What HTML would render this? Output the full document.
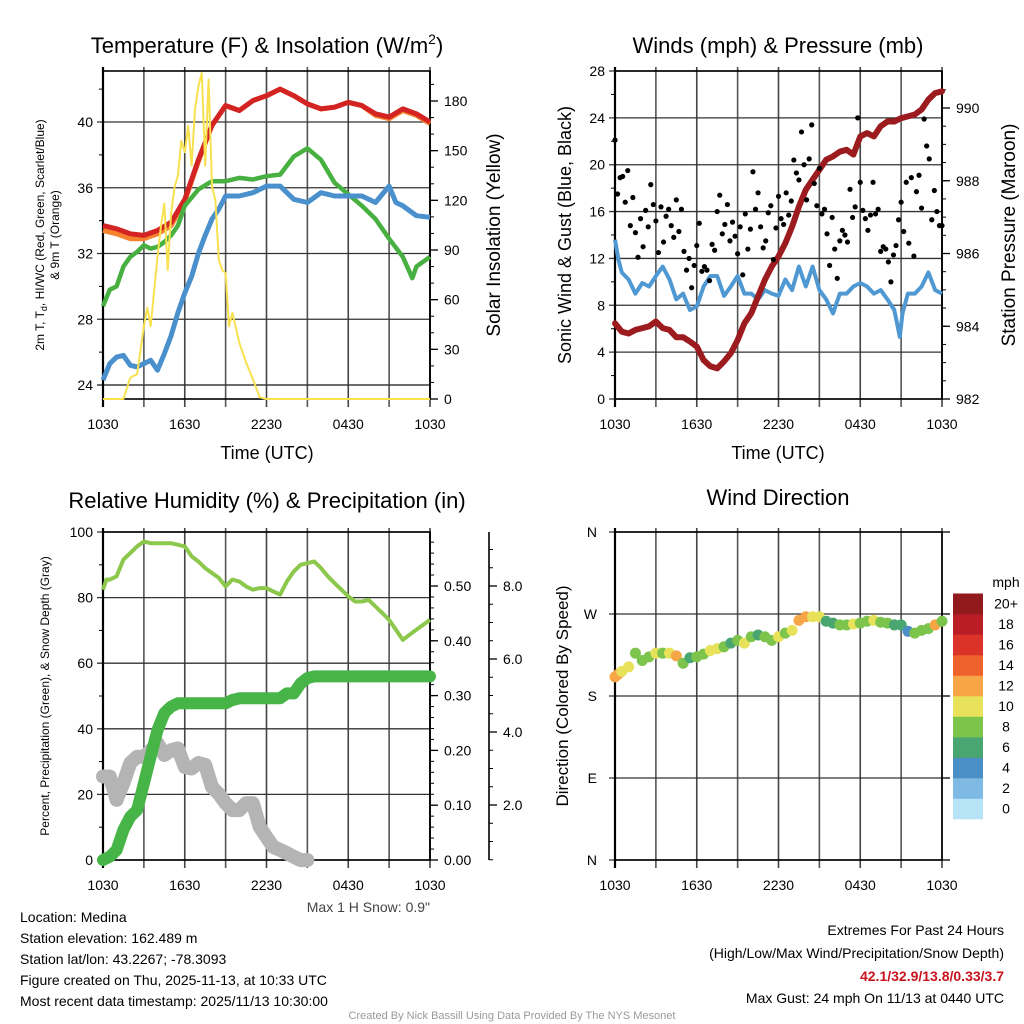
<!DOCTYPE html>
<html><head><meta charset="utf-8"><style>
html,body{margin:0;padding:0;background:#fff;}
svg{display:block;font-family:"Liberation Sans",Arial,sans-serif;}
</style></head><body>
<svg id="fig" width="1024" height="1024" viewBox="0 0 1024 1024" xmlns="http://www.w3.org/2000/svg">
<rect x="0" y="0" width="1024" height="1024" fill="#fff"/>
<text x="267" y="53" font-size="22" text-anchor="middle">Temperature (F) &amp; Insolation (W/m<tspan dy="-9" font-size="14">2</tspan><tspan dy="9">)</tspan></text>
<text x="778" y="53" font-size="22" text-anchor="middle">Winds (mph) &amp; Pressure (mb)</text>
<text x="267" y="508" font-size="22" text-anchor="middle">Relative Humidity (%) &amp; Precipitation (in)</text>
<text x="778" y="505" font-size="22" text-anchor="middle">Wind Direction</text>
<text transform="translate(44,235) rotate(-90)" font-size="12" text-anchor="middle">2m T, T<tspan font-size="9" dy="3">d</tspan><tspan dy="-3">, HI/WC (Red, Green, Scarlet/Blue)</tspan></text>
<text transform="translate(59,235) rotate(-90)" font-size="12" text-anchor="middle">&amp; 9m T (Orange)</text>
<text transform="translate(500,235) rotate(-90)" font-size="19" text-anchor="middle">Solar Insolation (Yellow)</text>
<text x="267" y="459" font-size="18" text-anchor="middle">Time (UTC)</text>
<text transform="translate(571,235) rotate(-90)" font-size="18" text-anchor="middle">Sonic Wind &amp; Gust (Blue, Black)</text>
<text transform="translate(1015,235) rotate(-90)" font-size="19" text-anchor="middle">Station Pressure (Maroon)</text>
<text x="778" y="459" font-size="18" text-anchor="middle">Time (UTC)</text>
<text transform="translate(49,696) rotate(-90)" font-size="12" text-anchor="middle">Percent, Precipitation (Green), &amp; Snow Depth (Gray)</text>
<text transform="translate(568,696) rotate(-90)" font-size="17" text-anchor="middle">Direction (Colored By Speed)</text>
<text x="430" y="912" font-size="14" text-anchor="end" fill="#444">Max 1 H Snow: 0.9"</text>
<g font-size="14">
<text x="20" y="922">Location: Medina</text>
<text x="20" y="943">Station elevation: 162.489 m</text>
<text x="20" y="964">Station lat/lon: 43.2267; -78.3093</text>
<text x="20" y="985">Figure created on Thu, 2025-11-13, at 10:33 UTC</text>
<text x="20" y="1006">Most recent data timestamp: 2025/11/13 10:30:00</text>
</g>
<g font-size="14" text-anchor="end">
<text x="1004" y="935">Extremes For Past 24 Hours</text>
<text x="1004" y="958">(High/Low/Max Wind/Precipitation/Snow Depth)</text>
<text x="1004" y="981" fill="#c8141e" font-weight="bold">42.1/32.9/13.8/0.33/3.7</text>
<text x="1004" y="1003">Max Gust: 24 mph On 11/13 at 0440 UTC</text>
</g>
<text x="512" y="1019" font-size="11" text-anchor="middle" fill="#999">Created By Nick Bassill Using Data Provided By The NYS Mesonet</text>
<g id="layer"></g>
</svg>
<script>
const timeTickLabels = ["1030","1630","2230","0430","1030"];
const tempHours = [0,1,2,3,4,5,6,7,8,9,10,11,12,13,14,15,16,17,18,19,20,21,22,23,24];
const temp2m = [33.7,33.5,33.2,33.1,33.4,33.9,35.3,37.7,39.8,41.0,40.7,41.3,41.6,42.0,41.6,41.1,40.8,40.9,41.2,41.0,40.5,40.3,40.8,40.5,40.0];
const temp9m = [33.4,33.2,32.9,32.9,33.2,33.7,35.2,37.6,39.8,41.0,40.7,41.3,41.6,42.0,41.6,41.1,40.8,40.9,41.2,41.0,40.4,40.2,40.7,40.4,39.9];
const dewHours = [0,0.5,1,1.5,2,2.5,3,3.5,4,4.5,5,5.5,6,7,8,9,10,11,12,13,14,15,16,17,18,19,20,21,22,22.7,23,24];
const dewpoint = [28.8,29.8,30.0,31.2,31.8,32.1,32.5,32.3,32.4,32.7,33.1,33.7,34.9,35.9,36.4,36.4,36.6,36.5,36.7,36.8,37.9,38.4,37.7,36.3,35.6,34.9,34.1,32.9,31.8,30.5,31.2,31.8];
const wcHours = [0,0.5,1,1.5,2,2.5,3,3.5,4,4.5,5,5.5,6,6.5,7,7.5,8,8.5,9,10,11,12,13,14,15,16,17,18,19,20,21,21.5,22,23,24];
const windChill = [24.3,25.3,25.7,25.8,25.2,25.1,25.3,25.5,24.9,25.9,27.0,28.4,29.6,30.6,32.0,33.1,34.1,34.7,35.5,35.5,35.7,36.1,36.1,35.3,35.1,35.7,35.5,35.5,35.5,35.1,36.1,35.1,34.9,34.3,34.2];
const solarHours = [0,1,1.5,2,2.5,3,3.25,3.5,4,4.25,4.5,4.75,5,5.25,5.5,5.75,6,6.25,6.5,6.75,7,7.25,7.5,7.75,8,8.25,8.5,8.75,9,9.25,9.5,10,10.5,11,11.5,12,15,18,21,24];
const solar = [0,0,0,13,15,44,55,44,86,104,118,78,112,128,135,156,149,165,141,175,189,197,141,193,128,120,84,78,76,44,52,34,22,12,1,0,0,0,0,0];
const tempTicks = [24,28,32,36,40];
const solarTicks = [0,30,60,90,120,150,180];
const windHours = [0,0.25,0.5,1,1.5,2,2.5,3,3.5,4,4.5,5,5.5,6,6.5,7,7.5,8,8.5,9,9.5,10,10.5,11,11.5,12,12.5,13,13.5,14,14.5,15,15.5,16,16.5,17,17.5,18,18.5,19,19.5,20,20.5,20.9,21.1,21.5,22,22.5,23,23.5,24];
const windSpeed = [13.6,11.9,10.8,10.2,9.0,9.9,9.6,10.5,11.3,10.2,8.5,9.0,7.6,7.9,9.6,10.5,10.5,8.8,9.6,10.5,9.0,9.0,8.5,9.3,9.0,8.8,10.2,9.3,11.3,9.6,11.3,9.3,8.5,7.3,9.0,9.0,9.6,9.9,9.6,9.0,9.3,8.5,7.6,5.3,7.3,9.0,9.0,9.6,10.8,9.3,9.0];
const pressHours = [0,0.5,1,1.5,2,2.5,3,3.5,4,4.5,5,5.5,6,6.5,7,7.5,8,8.5,9,9.5,10,10.5,11,11.5,12,12.5,13,13.5,14,14.5,15,15.5,16,16.5,17,17.5,18,18.5,19,19.5,20,20.5,21,21.5,22,22.5,23,23.5,24];
const pressure = [984.08,983.85,983.8,983.9,983.95,984.0,984.13,983.95,983.9,983.7,983.7,983.58,983.44,983.07,982.9,982.84,983.03,983.26,983.62,984.08,984.36,984.82,985.28,985.64,985.92,986.28,986.74,987.29,987.75,988.03,988.3,988.58,988.67,988.8,988.85,988.72,989.22,989.31,989.22,989.5,989.63,989.63,989.72,989.77,989.82,989.96,990.23,990.41,990.46];
const gusts = [22.1,17.5,18.9,19.0,16.8,19.5,14.8,17.2,14.2,12.1,15.4,13.0,16.1,14.7,18.3,16.6,15.2,12.5,16.4,13.4,15.6,16.2,14.8,13.8,17.0,14.3,16.2,12.6,11.0,12.0,9.5,11.4,13.1,15.0,10.9,11.3,11.0,10.1,13.2,12.7,16.0,17.4,14.1,14.9,16.6,13.5,15.1,13.9,12.4,14.7,10.6,15.8,12.8,14.5,19.4,16.2,17.6,14.7,12.9,13.5,15.9,16.5,11.9,14.6,17.3,15.4,14.9,17.6,15.7,16.9,20.4,19.3,18.7,22.8,20.0,17.0,20.5,23.4,18.4,16.5,19.7,15.8,16.2,14.1,11.4,15.5,12.8,10.3,13.5,14.4,14.0,13.4,17.9,15.5,16.4,24.0,18.5,16.1,15.4,14.4,15.7,18.5,15.8,16.2,12.6,13.0,12.8,11.7,10.0,12.3,13.1,15.3,16.8,14.3,18.5,13.3,18.9,12.2,17.7,19.1,16.3,23.9,21.6,20.5,15.3,17.8,16.0,14.8,14.8];
const windTicks = [0,4,8,12,16,20,24,28];
const pressTicks = [982,984,986,988,990];
const rhHours = [0,0.25,0.5,1,1.5,2,2.5,3,3.5,4,4.5,5,5.5,6,6.5,7,7.5,8,8.5,9,9.5,10,10.5,11,11.5,12,12.5,13,13.5,14,14.5,15,15.5,16,16.5,17,17.5,18,18.5,19,19.5,20,20.5,21,21.5,22,22.5,23,23.5,24];
const rh = [82.4,85.5,85.5,86.5,91.6,93.6,95.6,97.1,96.6,96.6,96.6,96.6,96.1,95.6,92.6,91.0,89.0,87.5,86.0,83.4,85.5,84.9,83.4,82.4,82.9,82.9,81.9,80.9,84.9,88.0,90.0,90.5,91.0,89.0,86.5,84.4,82.4,80.4,78.8,78.8,79.3,77.3,75.3,73.2,70.2,67.1,68.7,70.2,71.7,73.2];
const precipHours = [0,0.5,1,1.5,2,2.5,3,3.5,4,4.5,5,5.5,6,9,9.5,10,13,13.5,14,14.5,15,15.5,24];
const precip = [0,0.006,0.018,0.055,0.079,0.091,0.14,0.189,0.237,0.268,0.28,0.286,0.286,0.286,0.292,0.295,0.295,0.304,0.304,0.322,0.332,0.335,0.335];
const snowHours = [0,0.5,1,1.5,2,2.5,3,3.5,4,4.5,5,5.5,6,6.5,7,7.5,8,8.5,9,9.5,10,10.5,11,11.5,12,12.5,13,13.5,14,14.5,15];
const snowDepth = [2.78,2.78,2.14,2.6,3.15,3.32,3.32,3.5,3.69,3.37,3.5,3.55,3.04,3.0,3.15,3.1,2.49,2.3,2.05,1.86,1.86,2.05,2.05,1.4,1.12,0.85,0.77,0.68,0.58,0.49,0.49];
const rhTicks = [0,20,40,60,80,100];
const precipTicks = ["0.00","0.10","0.20","0.30","0.40","0.50"];
const snowTicks = ["2.0","4.0","6.0","8.0"];
const dirHours = [0,0.25,0.5,1,1.5,2,2.5,3,3.5,4,4.5,5,5.5,6,6.5,7,7.5,8,8.5,9,9.5,10,10.5,11,11.5,12,12.5,13,13.5,14,14.5,15,15.5,16,16.5,17,17.5,18,18.5,19,19.5,20,20.5,21,21.5,22,22.5,23,23.5,24];
const direction = [201,204,207,212,227,219,223,227,227,227,224,216,222,223,226,230,232,234,238,241,238,245,247,245,241,245,249,252,263,267,267,267,262,260,258,258,259,260,262,263,261,260,258,258,251,249,252,254,258,262];
const dirSpeed = [13,12,11,10,9,8,9,10,9,10,13,8,7,8,9,10,10,9,6,8,10,8,7,8,9,10,9,10,12,13,10,10,7,7,8,9,10,9,8,10,9,8,7,6,5,8,9,8,12,9];
const dirTickLabels = ["N","E","S","W","N"];
const speedBins = ["0","2","4","6","8","10","12","14","16","18","20+"];
const speedColors = ["#b7e4f7","#7ebae3","#4a90c6","#4aa670","#7cc44c","#e7e25a","#f7a647","#f0622d","#dc3328","#bb1d27","#921a1c"];

const NS = "http://www.w3.org/2000/svg";
const layer = document.getElementById("layer");
function mk(tag, attrs, parent){ const e=document.createElementNS(NS,tag); for(const k in attrs) e.setAttribute(k,attrs[k]); (parent||layer).appendChild(e); return e; }
function linScale(d0,d1,r0,r1){ return v => r0 + (v-d0)/(d1-d0)*(r1-r0); }
function pathFrom(xs,ys,sx,sy){ return xs.map((h,i)=>(i?"L":"M")+sx(h).toFixed(1)+","+sy(ys[i]).toFixed(1)).join(""); }

function frame(x0,x1,y0,y1,name,hGrid){
  const g = mk("g",{});
  
  
  for(let i=0;i<=8;i++){
    const x = x0+(x1-x0)*i/8;
    mk("line",{x1:x,x2:x,y1:y0-4,y2:y1+8,stroke:i%2?"#555":"#444","stroke-width":1.6},g);
  }
  hGrid.forEach(y=>mk("line",{x1:x0-6,x2:x1,y1:y,y2:y,stroke:"#333","stroke-width":1.3},g));
  mk("rect",{x:x0,y:y0,width:x1-x0,height:y1-y0,fill:"none",stroke:"#000","stroke-width":1.6},g);
  mk("line",{x1:x0,x2:x0,y1:y0-4,y2:y1+8,stroke:"#000","stroke-width":2.2},g);
  timeTickLabels.forEach((t,i)=>{
    const tx = mk("text",{x:x0+(x1-x0)*i/4,y:y1+30,"font-size":14,"text-anchor":"middle"},g);
    tx.textContent = t;
  });
  return g;
}
function rightTicks(x,y0,y1,majors,minors,labels,sy,name,labX){
  const g = mk("g",{});
  
  
  mk("line",{x1:x,x2:x,y1:y0,y2:y1,stroke:"#000","stroke-width":1.6},g);
  minors.forEach(v=>mk("line",{x1:x,x2:x+4,y1:sy(v),y2:sy(v),stroke:"#000","stroke-width":1},g));
  majors.forEach((v,i)=>{
    mk("line",{x1:x,x2:x+8,y1:sy(v),y2:sy(v),stroke:"#000","stroke-width":1.3},g);
    const t=mk("text",{x:labX,y:sy(v)+5,"font-size":14,"text-anchor":"start"},g); t.textContent=labels[i];
  });
}
function leftLabels(x0,vals,labels,sy,name,minors){
  const g = mk("g",{});
  
  
  (minors||[]).forEach(v=>mk("line",{x1:x0-4,x2:x0,y1:sy(v),y2:sy(v),stroke:"#000","stroke-width":1},g));
  vals.forEach((v,i)=>{ const t=mk("text",{x:x0-10,y:sy(v)+5,"font-size":14,"text-anchor":"end"},g); t.textContent=labels[i]; });
}

{
  const x0=103,x1=430,y0=71,y1=399;
  const sx = linScale(0,24,x0,x1);
  const sy = linScale(24,40,385,122);
  const sr = linScale(0,180,399,101);
  frame(x0,x1,y0,y1,"temperature",tempTicks.map(sy).concat([385]));
  const mn=[]; for(let v=26;v<=42;v+=4) mn.push(v);
  leftLabels(x0,tempTicks,tempTicks.map(String),sy,"temperature-y-ticks",mn);
  const rm=[]; for(let v=10;v<=190;v+=10) rm.push(v);
  rightTicks(x1,y0,y1,solarTicks,rm,solarTicks.map(String),sr,"solar-y-axis",x1+14);
  const p5 = mk("path",{d:pathFrom(tempHours,temp9m,sx,sy),fill:"none",stroke:"#f5822e","stroke-width":5,"stroke-linejoin":"round"});
  
  
  const p1 = mk("path",{d:pathFrom(tempHours,temp2m,sx,sy),fill:"none",stroke:"#d42323","stroke-width":5,"stroke-linejoin":"round"});
  
  
  const p2 = mk("path",{d:pathFrom(dewHours,dewpoint,sx,sy),fill:"none",stroke:"#47b041","stroke-width":4.5,"stroke-linejoin":"round"});
  
  
  const p3 = mk("path",{d:pathFrom(wcHours,windChill,sx,sy),fill:"none",stroke:"#4a90cc","stroke-width":5,"stroke-linejoin":"round"});
  
  
  const p4 = mk("path",{d:pathFrom(solarHours,solar,sx,sr),fill:"none",stroke:"#f8e14f","stroke-width":2,"stroke-linejoin":"round"});
  
  
}
{
  const x0=615,x1=942,y0=71,y1=399;
  const sx = linScale(0,24,x0,x1);
  const sy = linScale(0,28,399,71);
  const sp = linScale(982,990,399,108);
  frame(x0,x1,y0,y1,"winds",windTicks.map(sy));
  const mn=[]; for(let v=2;v<=26;v+=4) mn.push(v);
  leftLabels(x0,windTicks,windTicks.map(String),sy,"wind-y-ticks",mn);
  const rm=[]; for(let v=982.5;v<=990.5;v+=0.5) rm.push(v);
  rightTicks(x1,y0,y1,pressTicks,rm,pressTicks.map(String),sp,"pressure-y-axis",x1+14);
  const pw = mk("path",{d:pathFrom(windHours,windSpeed,sx,sy),fill:"none",stroke:"#4f98d2","stroke-width":4,"stroke-linejoin":"round"});
  
  
  const pp = mk("path",{d:pathFrom(pressHours,pressure,sx,sp),fill:"none",stroke:"#9b1b1e","stroke-width":6,"stroke-linejoin":"round","stroke-linecap":"round"});
  
  
  const gg = mk("g",{});
  
  
  gusts.forEach((v,i)=>{
    const c = mk("circle",{cx:sx(24*i/(gusts.length-1)),cy:sy(v),r:2.6,fill:"#000"},gg);
    
    
  });
}
{
  const x0=103,x1=430,y0=532,y1=860;
  const sx = linScale(0,24,x0,x1);
  const sy = linScale(0,100,860,532);
  const spc = linScale(0,0.5,860,586);
  const ssn = linScale(2,8,805,586);
  frame(x0,x1,y0,y1,"humidity",rhTicks.map(sy));
  const mn=[]; for(let v=10;v<=90;v+=20) mn.push(v);
  leftLabels(x0,rhTicks,rhTicks.map(String),sy,"rh-y-ticks",mn);
  const pm=[]; for(let v=0.02;v<0.6;v+=0.02) pm.push(v);
  rightTicks(x1,y0,y1,precipTicks.map(Number),pm,precipTicks,spc,"precip-y-axis",x1+14);
  const sm=[]; for(let v=0.5;v<=9.5;v+=0.5) if(ssn(v)>=532&&ssn(v)<=860) sm.push(v);
  rightTicks(489,532,860,snowTicks.map(Number),sm,snowTicks,ssn,"snow-y-axis",503);
  const ps = mk("path",{d:pathFrom(snowHours,snowDepth,sx,ssn),fill:"none",stroke:"#b4b4b4","stroke-width":14,"stroke-linejoin":"round","stroke-linecap":"round"});
  
  
  const pc = mk("path",{d:pathFrom(precipHours,precip,sx,spc),fill:"none",stroke:"#46b447","stroke-width":12,"stroke-linejoin":"round","stroke-linecap":"round"});
  
  
  const pr = mk("path",{d:pathFrom(rhHours,rh,sx,sy),fill:"none",stroke:"#8cc84b","stroke-width":4,"stroke-linejoin":"round"});
  
  
}
{
  const x0=615,x1=942,y0=532,y1=860;
  const sx = linScale(0,24,x0,x1);
  const sy = linScale(0,360,860,532);
  const g = frame(x0,x1,y0,y1,"direction",[0,90,180,270,360].map(sy));
  [0,90,180,270,360].forEach(v=>mk("line",{x1:x1,x2:x1+8,y1:sy(v),y2:sy(v),stroke:"#000","stroke-width":1.3},g));
  dirTickLabels.forEach((t,i)=>{ const tx=mk("text",{x:x0-18,y:sy(i*90)+5,"font-size":14,"text-anchor":"end"}); tx.textContent=t;   });
  const gd = mk("g",{});
  
  
  direction.forEach((d,i)=>{
    const bin = Math.max(0,Math.min(10,Math.floor(dirSpeed[i]/2)));
    const c = mk("circle",{cx:sx(dirHours[i]),cy:sy(d),r:5.5,fill:speedColors[bin]},gd);
    
    
  });
  const lg = mk("g",{});
  
  
  const ut = mk("text",{x:1006,y:587,"font-size":14,"text-anchor":"middle"},lg); ut.textContent="mph";
  speedBins.forEach((b,i)=>{
    const yy = 819 - (i+1)*20.5;
    const r = mk("rect",{x:953,y:yy,width:30,height:20.8,fill:speedColors[i]},lg);
    
    
    const t = mk("text",{x:1006,y:yy+15,"font-size":14,"text-anchor":"middle"},lg); t.textContent=b;
  });
}
</script>
</body></html>
